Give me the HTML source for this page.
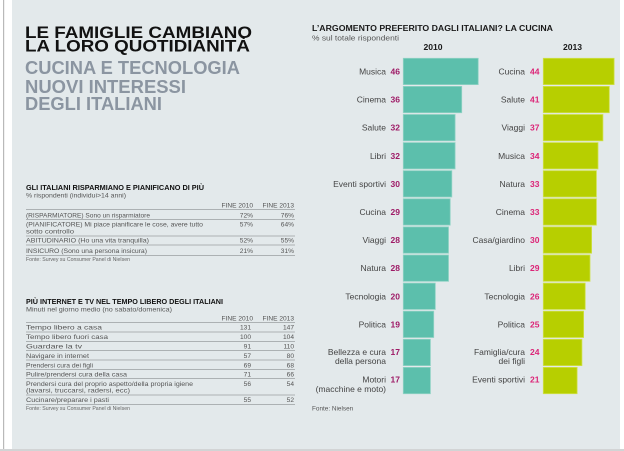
<!DOCTYPE html>
<html><head><meta charset="utf-8"><style>
html,body{margin:0;padding:0;background:#fff;}
svg{display:block;}
text{font-family:"Liberation Sans",sans-serif;}
</style></head><body>
<svg width="624" height="451" viewBox="0 0 624 451" xmlns="http://www.w3.org/2000/svg">
<rect x="0" y="0" width="624" height="451" fill="#ffffff"/>
<rect x="3" y="0" width="1.2" height="451" fill="#b9b9b9"/>
<rect x="12" y="0" width="608" height="449" fill="#e3e9eb"/>
<rect x="0" y="449" width="624" height="2" fill="#d2d4d5"/>

<!-- Headline -->
<g font-weight="bold">
<text x="25" y="38" font-size="17" fill="#111" textLength="227" lengthAdjust="spacingAndGlyphs">LE FAMIGLIE CAMBIANO</text>
<text x="25" y="51.5" font-size="17" fill="#111" textLength="225" lengthAdjust="spacingAndGlyphs">LA LORO QUOTIDIANITÀ</text>
<text x="25" y="74" font-size="18" fill="#8b95a1" textLength="215" lengthAdjust="spacingAndGlyphs">CUCINA E TECNOLOGIA</text>
<text x="25" y="93" font-size="18" fill="#8b95a1" textLength="161" lengthAdjust="spacingAndGlyphs">NUOVI INTERESSI</text>
<text x="25" y="110" font-size="18" fill="#8b95a1" textLength="137" lengthAdjust="spacingAndGlyphs">DEGLI ITALIANI</text>
</g>

<!-- Table 1 -->
<text x="26" y="190" font-size="7.6" font-weight="bold" fill="#111" textLength="178" lengthAdjust="spacingAndGlyphs">GLI ITALIANI RISPARMIANO E PIANIFICANO DI PIÙ</text>
<text x="26" y="197.5" font-size="6.6" fill="#555" textLength="100" lengthAdjust="spacingAndGlyphs">% rispondenti (individui&gt;14 anni)</text>
<g font-size="6.6" fill="#555">
<text x="253" y="207.5" text-anchor="end">FINE 2010</text>
<text x="294" y="207.5" text-anchor="end">FINE 2013</text>
<text x="26" y="217.5" textLength="124" lengthAdjust="spacingAndGlyphs">(RISPARMIATORE) Sono un risparmiatore</text>
<text x="253" y="217.5" text-anchor="end">72%</text>
<text x="294" y="217.5" text-anchor="end">76%</text>
<text x="26" y="226.5" textLength="177" lengthAdjust="spacingAndGlyphs">(PIANIFICATORE) Mi piace pianificare le cose, avere tutto</text>
<text x="26" y="233.5" textLength="48" lengthAdjust="spacingAndGlyphs">sotto controllo</text>
<text x="253" y="226.5" text-anchor="end">57%</text>
<text x="294" y="226.5" text-anchor="end">64%</text>
<text x="26" y="242.5" textLength="123" lengthAdjust="spacingAndGlyphs">ABITUDINARIO (Ho una vita tranquilla)</text>
<text x="253" y="242.5" text-anchor="end">52%</text>
<text x="294" y="242.5" text-anchor="end">55%</text>
<text x="26" y="253" textLength="121" lengthAdjust="spacingAndGlyphs">INSICURO (Sono una persona insicura)</text>
<text x="253" y="253" text-anchor="end">21%</text>
<text x="294" y="253" text-anchor="end">31%</text>
</g>
<text x="26" y="261" font-size="5" fill="#666" textLength="104" lengthAdjust="spacingAndGlyphs">Fonte: Survey su Consumer Panel di Nielsen</text>
<g stroke="#9a9ea0" stroke-width="0.7">
<line x1="26" y1="209.5" x2="295" y2="209.5"/>
<line x1="26" y1="219.5" x2="295" y2="219.5"/>
<line x1="26" y1="236" x2="295" y2="236"/>
<line x1="26" y1="245" x2="295" y2="245"/>
<line x1="26" y1="255.5" x2="295" y2="255.5"/>
</g>

<!-- Table 2 -->
<text x="26" y="304" font-size="7.6" font-weight="bold" fill="#111" textLength="197" lengthAdjust="spacingAndGlyphs">PIÙ INTERNET E TV NEL TEMPO LIBERO DEGLI ITALIANI</text>
<text x="26" y="311.5" font-size="6.6" fill="#555" textLength="146" lengthAdjust="spacingAndGlyphs">Minuti nel giorno medio (no sabato/domenica)</text>
<g font-size="6.6" fill="#555">
<text x="253" y="320.5" text-anchor="end">FINE 2010</text>
<text x="294" y="320.5" text-anchor="end">FINE 2013</text>
<text x="26" y="329.5" textLength="76" lengthAdjust="spacingAndGlyphs">Tempo libero a casa</text>
<text x="251" y="329.5" text-anchor="end">131</text><text x="294" y="329.5" text-anchor="end">147</text>
<text x="26" y="339" textLength="82" lengthAdjust="spacingAndGlyphs">Tempo libero fuori casa</text>
<text x="251" y="339" text-anchor="end">100</text><text x="294" y="339" text-anchor="end">104</text>
<text x="26" y="348.5" textLength="56" lengthAdjust="spacingAndGlyphs">Guardare la tv</text>
<text x="251" y="348.5" text-anchor="end">91</text><text x="294" y="348.5" text-anchor="end">110</text>
<text x="26" y="358" textLength="63" lengthAdjust="spacingAndGlyphs">Navigare in internet</text>
<text x="251" y="358" text-anchor="end">57</text><text x="294" y="358" text-anchor="end">80</text>
<text x="26" y="367.5" textLength="67" lengthAdjust="spacingAndGlyphs">Prendersi cura dei figli</text>
<text x="251" y="367.5" text-anchor="end">69</text><text x="294" y="367.5" text-anchor="end">68</text>
<text x="26" y="376.5" textLength="101" lengthAdjust="spacingAndGlyphs">Pulire/prendersi cura della casa</text>
<text x="251" y="376.5" text-anchor="end">71</text><text x="294" y="376.5" text-anchor="end">66</text>
<text x="26" y="386" textLength="167" lengthAdjust="spacingAndGlyphs">Prendersi cura del proprio aspetto/della propria igiene</text>
<text x="26" y="392.5" textLength="104" lengthAdjust="spacingAndGlyphs">(lavarsi, truccarsi, radersi, ecc)</text>
<text x="251" y="386" text-anchor="end">56</text><text x="294" y="386" text-anchor="end">54</text>
<text x="26" y="402" textLength="83" lengthAdjust="spacingAndGlyphs">Cucinare/preparare i pasti</text>
<text x="251" y="402" text-anchor="end">55</text><text x="294" y="402" text-anchor="end">52</text>
</g>
<text x="26" y="410" font-size="5" fill="#666" textLength="104" lengthAdjust="spacingAndGlyphs">Fonte: Survey su Consumer Panel di Nielsen</text>
<g stroke="#9a9ea0" stroke-width="0.7">
<line x1="26" y1="322.5" x2="295" y2="322.5"/>
<line x1="26" y1="332" x2="295" y2="332"/>
<line x1="26" y1="341.5" x2="295" y2="341.5"/>
<line x1="26" y1="350.5" x2="295" y2="350.5"/>
<line x1="26" y1="360" x2="295" y2="360"/>
<line x1="26" y1="369.5" x2="295" y2="369.5"/>
<line x1="26" y1="378.5" x2="295" y2="378.5"/>
<line x1="26" y1="395" x2="295" y2="395"/>
<line x1="26" y1="404.5" x2="295" y2="404.5"/>
</g>

<!-- Right chart -->
<text x="312" y="31" font-size="8.6" font-weight="bold" fill="#1a1a1a" textLength="241" lengthAdjust="spacingAndGlyphs">L’ARGOMENTO PREFERITO DAGLI ITALIANI? LA CUCINA</text>
<text x="312" y="40.5" font-size="7.2" fill="#555" textLength="87" lengthAdjust="spacingAndGlyphs">% sul totale rispondenti</text>
<text x="433" y="50" font-size="8.6" font-weight="bold" fill="#1a1a1a" text-anchor="middle">2010</text>
<text x="572.5" y="50" font-size="8.6" font-weight="bold" fill="#1a1a1a" text-anchor="middle">2013</text>

<!-- 2010 bars -->
<g fill="#5cbfac" stroke="#8fd3c4" stroke-width="0.8">
<rect x="403.3" y="58.3" width="74.9" height="26.3"/>
<rect x="403.3" y="86.4" width="58.4" height="26.3"/>
<rect x="403.3" y="114.5" width="51.8" height="26.3"/>
<rect x="403.3" y="142.6" width="51.8" height="26.3"/>
<rect x="403.3" y="170.7" width="48.5" height="26.3"/>
<rect x="403.3" y="198.8" width="46.9" height="26.3"/>
<rect x="403.3" y="226.9" width="45.2" height="26.3"/>
<rect x="403.3" y="255.0" width="45.2" height="26.3"/>
<rect x="403.3" y="283.1" width="32" height="26.3"/>
<rect x="403.3" y="311.2" width="30.4" height="26.3"/>
<rect x="403.3" y="339.3" width="27.1" height="26.3"/>
<rect x="403.3" y="367.4" width="27.1" height="26.3"/>
</g>
<!-- 2013 bars -->
<g fill="#b7cf00" stroke="#cfe04a" stroke-width="0.8">
<rect x="543.3" y="58.3" width="70.8" height="26.3"/>
<rect x="543.3" y="86.4" width="66" height="26.3"/>
<rect x="543.3" y="114.5" width="59.6" height="26.3"/>
<rect x="543.3" y="142.6" width="54.7" height="26.3"/>
<rect x="543.3" y="170.7" width="53.1" height="26.3"/>
<rect x="543.3" y="198.8" width="53.1" height="26.3"/>
<rect x="543.3" y="226.9" width="48.3" height="26.3"/>
<rect x="543.3" y="255.0" width="46.7" height="26.3"/>
<rect x="543.3" y="283.1" width="41.9" height="26.3"/>
<rect x="543.3" y="311.2" width="40.3" height="26.3"/>
<rect x="543.3" y="339.3" width="38.6" height="26.3"/>
<rect x="543.3" y="367.4" width="33.8" height="26.3"/>
</g>

<!-- 2010 labels -->
<g font-size="8.5" fill="#444" text-anchor="end">
<text x="386" y="74.5">Musica</text>
<text x="386" y="102.6">Cinema</text>
<text x="386" y="130.7">Salute</text>
<text x="386" y="158.8">Libri</text>
<text x="386" y="186.9">Eventi sportivi</text>
<text x="386" y="215">Cucina</text>
<text x="386" y="243.1">Viaggi</text>
<text x="386" y="271.2">Natura</text>
<text x="386" y="299.3">Tecnologia</text>
<text x="386" y="327.4">Politica</text>
<text x="386" y="355">Bellezza e cura</text>
<text x="386" y="364">della persona</text>
<text x="386" y="382.5">Motori</text>
<text x="386" y="392">(macchine e moto)</text>
</g>
<g font-size="8.5" font-weight="bold" fill="#9e1a66">
<text x="390.5" y="74.5">46</text>
<text x="390.5" y="102.6">36</text>
<text x="390.5" y="130.7">32</text>
<text x="390.5" y="158.8">32</text>
<text x="390.5" y="186.9">30</text>
<text x="390.5" y="215">29</text>
<text x="390.5" y="243.1">28</text>
<text x="390.5" y="271.2">28</text>
<text x="390.5" y="299.3">20</text>
<text x="390.5" y="327.4">19</text>
<text x="390.5" y="355">17</text>
<text x="390.5" y="382.5">17</text>
</g>

<!-- 2013 labels -->
<g font-size="8.5" fill="#444" text-anchor="end">
<text x="525" y="74.5">Cucina</text>
<text x="525" y="102.6">Salute</text>
<text x="525" y="130.7">Viaggi</text>
<text x="525" y="158.8">Musica</text>
<text x="525" y="186.9">Natura</text>
<text x="525" y="215">Cinema</text>
<text x="525" y="243.1">Casa/giardino</text>
<text x="525" y="271.2">Libri</text>
<text x="525" y="299.3">Tecnologia</text>
<text x="525" y="327.4">Politica</text>
<text x="525" y="355">Famiglia/cura</text>
<text x="525" y="364">dei figli</text>
<text x="525" y="382.5">Eventi sportivi</text>
</g>
<g font-size="8.5" font-weight="bold" fill="#dc2477">
<text x="530" y="74.5">44</text>
<text x="530" y="102.6">41</text>
<text x="530" y="130.7">37</text>
<text x="530" y="158.8">34</text>
<text x="530" y="186.9">33</text>
<text x="530" y="215">33</text>
<text x="530" y="243.1">30</text>
<text x="530" y="271.2">29</text>
<text x="530" y="299.3">26</text>
<text x="530" y="327.4">25</text>
<text x="530" y="355">24</text>
<text x="530" y="382.5">21</text>
</g>

<text x="312" y="410.5" font-size="6.4" fill="#555">Fonte: Nielsen</text>
</svg>
</body></html>
